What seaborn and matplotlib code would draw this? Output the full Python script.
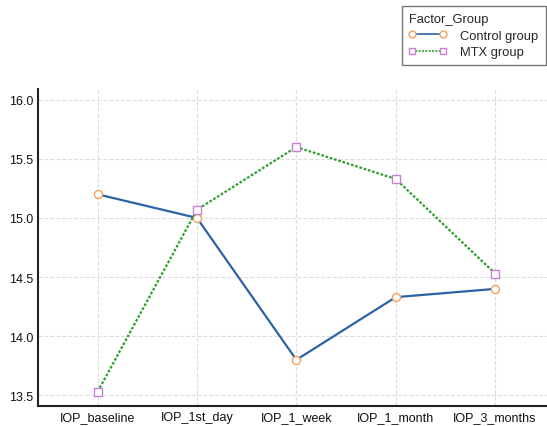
import pandas as pd
import seaborn as sns
import matplotlib.pyplot as plt
from matplotlib.lines import Line2D

# time points
time_points = ['IOP_baseline', 'IOP_1st_day', 'IOP_1_week', 'IOP_1_month', 'IOP_3_months']
# group means
control_vals = [15.2, 15.0, 13.8, 14.33, 14.4]
mtx_vals = [13.53, 15.07, 15.6, 15.33, 14.53]
groups = ['Control group', 'MTX group']

df = pd.DataFrame({
    'Time': time_points * 2,
    'IOP': control_vals + mtx_vals,
    'Factor_Group': [groups[0]] * 5 + [groups[1]] * 5,
})

sns.set_theme(style="white")
plt.rcParams['font.family'] = ['Liberation Sans', 'DejaVu Sans']

fig = plt.figure(figsize=(5.47, 4.27), dpi=100)
ax = fig.add_axes([0.0695, 0.047, 0.93, 0.742])

styles = {
    'Control group': dict(color='#2b63a6', linestyle='-', marker='o', mec='#f5a05a'),
    'MTX group': dict(color='#2ca02c', linestyle=(0, (1.2, 0.8)), marker='s', mec='#c97fd6'),
}
handles = []
for g in groups:
    st = styles[g]
    sub = df[df['Factor_Group'] == g]
    sns.lineplot(data=sub, x='Time', y='IOP', ax=ax, color=st['color'], linestyle=st['linestyle'],
                 linewidth=1.6, marker=st['marker'], markersize=5.8, markerfacecolor='white',
                 markeredgecolor=st['mec'], markeredgewidth=1.0, legend=False, zorder=3)
    handles.append(Line2D([], [], color=st['color'], linestyle=st['linestyle'], linewidth=1.2,
                          marker=st['marker'], markersize=5, markerfacecolor='white',
                          markeredgecolor=st['mec'], markeredgewidth=1.0))

ax.set_xlim(-0.6, 4.52)
ax.set_ylim(13.41, 16.09)
ax.set_yticks([13.5, 14.0, 14.5, 15.0, 15.5, 16.0])
ax.set_yticklabels(['13.5', '14.0', '14.5', '15.0', '15.5', '16.0'])
ax.set_xlabel('')
ax.set_ylabel('')
ax.grid(True, color='#dddddd', linestyle='--', linewidth=0.8)
for s in ['top', 'right']:
    ax.spines[s].set_visible(False)
for s in ['left', 'bottom']:
    ax.spines[s].set_color('#222222')
    ax.spines[s].set_linewidth(1.5)
ax.tick_params(direction='in', length=6, width=1.2, color='#444444', labelsize=9, labelcolor='#111111')
ax.tick_params(axis='x', pad=4)

leg = fig.legend(handles, groups, title='Factor_Group', loc='upper right',
                 bbox_to_anchor=(1.002, 0.99), fontsize=9.3, title_fontsize=9.3, numpoints=2,
                 frameon=True, fancybox=False, edgecolor='#555555', handlelength=3.0,
                 handletextpad=1.0, borderpad=0.55, labelspacing=0.35, borderaxespad=0.2)
leg.get_frame().set_linewidth(1.0)
leg._legend_box.align = 'left'

fig.savefig('out.png', dpi=100)
